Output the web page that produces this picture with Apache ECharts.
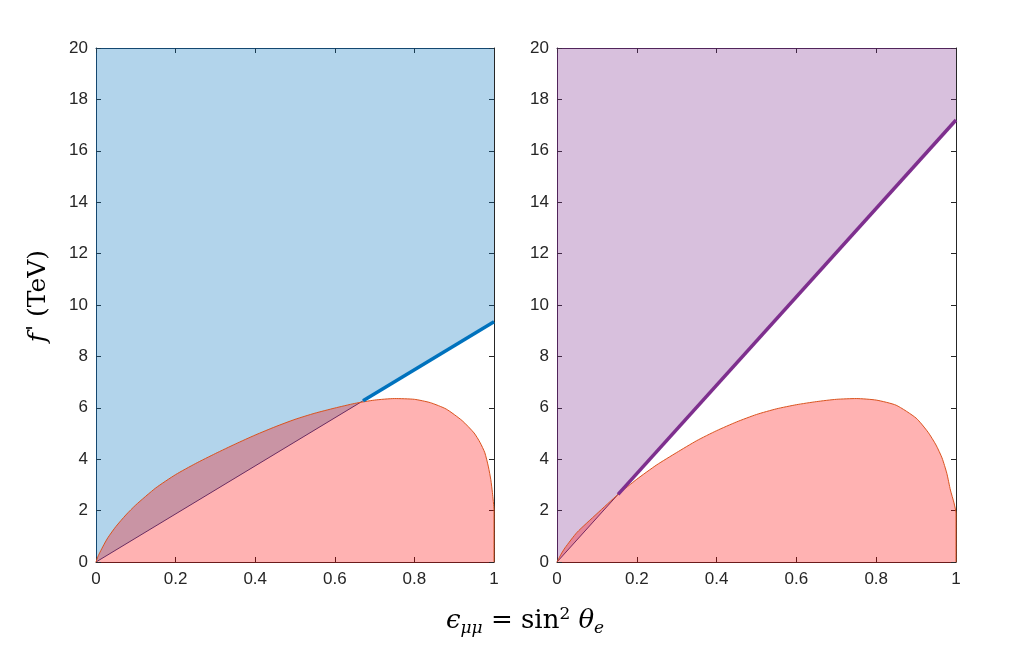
<!DOCTYPE html>
<html lang="en">
<head>
    <meta charset="UTF-8">
    <title>f' vs epsilon</title>
    <script src="https://cdn.jsdelivr.net/npm/echarts@6/dist/echarts.min.js"></script>
    <style>
        html, body { margin: 0; padding: 0; background: #fff; }
        #chart { width: 1009px; height: 649px; }
    </style>
</head>
<body>
    <div id="chart"></div>
    <script>
        // tick values
        const xTicks = [0, 0.2, 0.4, 0.6, 0.8, 1];
        const yTicks = [0, 2, 4, 6, 8, 10, 12, 14, 16, 18, 20];

        // left panel: bound line (blue) and red region edge
        const leftLine = [[0, 0], [1, 9.35]];
        const leftLineThick = [[0.671, 6.27], [1, 9.35]];
        const leftRed = [
            [0, 0], [0.005, 0.22], [0.01, 0.38], [0.02, 0.68], [0.03, 0.95], [0.05, 1.38],
            [0.075, 1.83], [0.1, 2.22], [0.15, 2.88], [0.2, 3.40], [0.25, 3.83],
            [0.3, 4.22], [0.35, 4.59], [0.4, 4.94], [0.45, 5.26], [0.5, 5.55],
            [0.55, 5.79], [0.6, 5.99], [0.65, 6.17], [0.7, 6.30], [0.75, 6.36],
            [0.8, 6.33], [0.84, 6.20], [0.88, 5.95], [0.92, 5.50], [0.95, 5.02],
            [0.965, 4.65], [0.977, 4.25], [0.986, 3.70], [0.992, 3.20], [0.996, 2.70],
            [1, 2.0], [1, 0]
        ];

        // right panel: bound line (purple) and red region edge
        const rightLine = [[0, 0], [1, 17.2]];
        const rightLineThick = [[0.153, 2.63], [1, 17.2]];
        const rightRed = [
            [0, 0], [0.01, 0.3], [0.02, 0.55], [0.05, 1.15], [0.1, 1.88], [0.153, 2.63],
            [0.2, 3.22], [0.25, 3.78], [0.3, 4.26], [0.35, 4.72], [0.4, 5.11],
            [0.45, 5.45], [0.5, 5.74], [0.55, 5.96], [0.6, 6.12], [0.65, 6.24],
            [0.7, 6.33], [0.75, 6.36], [0.8, 6.30], [0.85, 6.10], [0.9, 5.60],
            [0.93, 5.05], [0.95, 4.55], [0.965, 4.05], [0.977, 3.45], [0.986, 2.80],
            [0.995, 2.30], [1, 1.9], [1, 0]
        ];

        const labelFont = { fontFamily: 'Liberation Sans, Arial, sans-serif', fontSize: 17, color: '#262626' };

        function xAxis(grid, pos, lineColor, showLabel) {
            return {
                type: 'value', gridIndex: grid, position: pos, min: 0, max: 1, interval: 0.2,
                axisLine: { show: true, onZero: false, lineStyle: { color: lineColor, width: 1 } },
                axisTick: { show: true, inside: true, length: 5, lineStyle: { color: '#262626' } },
                axisLabel: Object.assign({ show: showLabel, margin: 9 }, labelFont),
                splitLine: { show: false }
            };
        }
        function yAxis(grid, pos, lineColor, showLabel) {
            return {
                type: 'value', gridIndex: grid, position: pos, min: 0, max: 20, interval: 2,
                axisLine: { show: true, onZero: false, lineStyle: { color: lineColor, width: 1 } },
                axisTick: { show: true, inside: true, length: 5, lineStyle: { color: '#262626' } },
                axisLabel: Object.assign({ show: showLabel, margin: 8 }, labelFont),
                splitLine: { show: false }
            };
        }

        const chart = echarts.init(document.getElementById('chart'));
        const option = {
            backgroundColor: '#fff',
            animation: false,
            grid: [
                { left: 96, top: 48, width: 398, height: 514 },
                { left: 557, top: 48, width: 399, height: 514 }
            ],
            xAxis: [
                xAxis(0, 'bottom', '#6b1a1a', true),
                xAxis(1, 'bottom', '#6b1a1a', true),
                xAxis(0, 'top', '#1d3550', false),
                xAxis(1, 'top', '#3e2046', false)
            ],
            yAxis: [
                yAxis(0, 'left', '#1d3550', true),
                yAxis(1, 'left', '#3e2046', true),
                yAxis(0, 'right', '#262626', false),
                yAxis(1, 'right', '#262626', false)
            ],
            graphic: [
                {
                    type: 'text', left: 25, top: 250, rotation: Math.PI / 2,
                    style: {
                        text: "{i|f}{q|'}{n| (TeV)}",
                        rich: {
                            i: { fontFamily: 'DejaVu Serif, serif', fontStyle: 'italic', fontSize: 25, fill: '#000' },
                            q: { fontFamily: 'DejaVu Serif, serif', fontSize: 22, fill: '#000', padding: [0, 0, 4, 2] },
                            n: { fontFamily: 'DejaVu Serif, serif', fontSize: 25, fill: '#000' }
                        }
                    }
                },
                {
                    type: 'text', left: 446, top: 606,
                    style: {
                        text: '{i|ϵ}{s|μμ}{n| = sin}{p|2}{i| θ}{s|e}',
                        rich: {
                            i: { fontFamily: 'DejaVu Serif, serif', fontStyle: 'italic', fontSize: 26, fill: '#000' },
                            n: { fontFamily: 'DejaVu Serif, serif', fontSize: 26, fill: '#000' },
                            s: { fontFamily: 'DejaVu Serif, serif', fontStyle: 'italic', fontSize: 17, fill: '#000', padding: [14, 0, 0, 0] },
                            p: { fontFamily: 'DejaVu Serif, serif', fontSize: 17, fill: '#000', padding: [0, 0, 14, 0] }
                        }
                    }
                }
            ],
            series: [
                {
                    type: 'line', xAxisIndex: 0, yAxisIndex: 0, data: leftLine,
                    showSymbol: false, z: 2,
                    lineStyle: { color: '#2a3f8a', width: 1 },
                    areaStyle: { origin: 'end', color: 'rgba(0,114,189,0.3)', opacity: 1 }
                },
                {
                    type: 'line', xAxisIndex: 0, yAxisIndex: 0, data: leftRed,
                    showSymbol: false, z: 3, smooth: 0.2,
                    lineStyle: { color: '#d9531e', width: 1 },
                    areaStyle: { origin: 'start', color: 'rgba(255,0,0,0.3)', opacity: 1 }
                },
                {
                    type: 'line', xAxisIndex: 0, yAxisIndex: 0, data: leftLineThick,
                    showSymbol: false, z: 4,
                    lineStyle: { color: '#0072BD', width: 3.5 }
                },
                {
                    type: 'line', xAxisIndex: 1, yAxisIndex: 1, data: rightLine,
                    showSymbol: false, z: 2,
                    lineStyle: { color: '#3a3a8a', width: 1 },
                    areaStyle: { origin: 'end', color: 'rgba(126,47,142,0.3)', opacity: 1 }
                },
                {
                    type: 'line', xAxisIndex: 1, yAxisIndex: 1, data: rightRed,
                    showSymbol: false, z: 3, smooth: 0.2,
                    lineStyle: { color: '#d9531e', width: 1 },
                    areaStyle: { origin: 'start', color: 'rgba(255,0,0,0.3)', opacity: 1 }
                },
                {
                    type: 'line', xAxisIndex: 1, yAxisIndex: 1, data: rightLineThick,
                    showSymbol: false, z: 4,
                    lineStyle: { color: '#7E2F8E', width: 3.5 }
                }
            ]
        };
        chart.setOption(option);
    </script>
</body>
</html>
